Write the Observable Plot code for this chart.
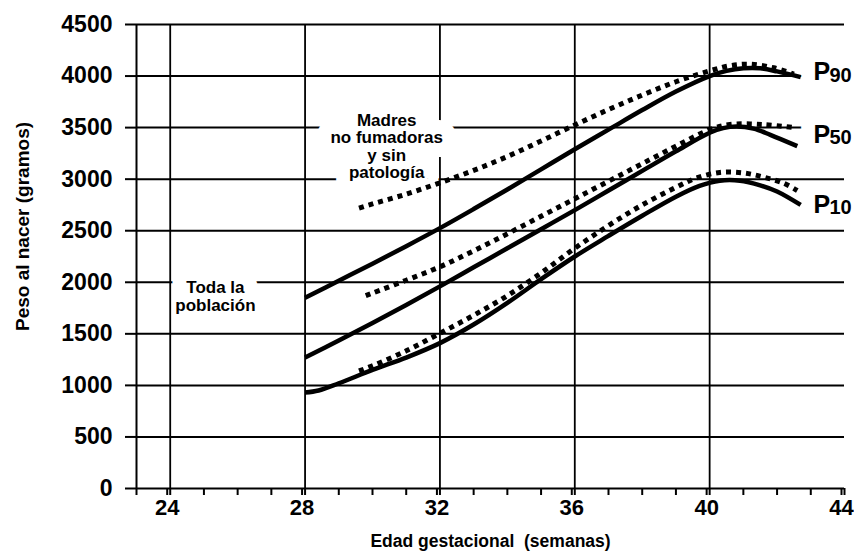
<!DOCTYPE html>
<html>
<head>
<meta charset="utf-8">
<script src="https://cdn.jsdelivr.net/npm/d3@7"></script>
<script src="https://cdn.jsdelivr.net/npm/@observablehq/plot@0.6"></script>
<style>
  html, body { margin: 0; padding: 0; background: #fff; overflow: hidden; }
  svg { overflow: visible; }
</style>
</head>
<body>
<div id="chart"></div>
<script>
// ---- data ----
const yTicks = [0, 500, 1000, 1500, 2000, 2500, 3000, 3500, 4000, 4500];
const xMajorTicks = [24, 28, 32, 36, 40, 44];
const xMinorTicks = [23, 24, 25, 26, 27, 28, 29, 30, 31, 32, 33, 34, 35, 36, 37, 38, 39, 40, 41, 42, 43, 44];
const verticalGrid = [24, 28, 32, 36, 40];

// Toda la población (solid)
const p90SolidWeeks = [28, 29, 30, 31, 32, 33, 34, 35, 36, 37, 38, 39, 40, 40.5, 41, 41.5, 42, 42.7];
const p90SolidGrams = [1850, 2015, 2180, 2350, 2525, 2710, 2900, 3095, 3290, 3480, 3670, 3850, 4000, 4050, 4075, 4075, 4045, 3990];
const p50SolidWeeks = [28, 29, 30, 31, 32, 33, 34, 35, 36, 37, 38, 39, 40, 40.4, 40.8, 41.3, 41.8, 42.6];
const p50SolidGrams = [1270, 1435, 1605, 1780, 1960, 2145, 2330, 2515, 2700, 2890, 3080, 3270, 3450, 3495, 3510, 3490, 3430, 3320];
const p10SolidWeeks = [28, 28.4, 29, 30, 31, 32, 33, 34, 35, 36, 37, 38, 39, 39.7, 40.3, 40.9, 41.5, 42, 42.7];
const p10SolidGrams = [930, 950, 1020, 1150, 1270, 1410, 1590, 1800, 2030, 2250, 2450, 2645, 2830, 2935, 2985, 2985, 2940, 2880, 2750];

// Madres no fumadoras y sin patología (dotted)
const p90DottedWeeks = [29.6, 30, 31, 32, 33, 34, 35, 36, 37, 38, 39, 40, 40.6, 41.2, 41.9, 42.5];
const p90DottedGrams = [2720, 2760, 2855, 2965, 3085, 3220, 3370, 3525, 3675, 3815, 3945, 4050, 4100, 4115, 4080, 4020];
const p50DottedWeeks = [29.8, 30, 31, 32, 33, 34, 35, 36, 37, 38, 39, 40, 40.6, 41.6, 42.5];
const p50DottedGrams = [1870, 1895, 2020, 2150, 2305, 2470, 2640, 2810, 2980, 3150, 3320, 3480, 3530, 3530, 3500];
const p10DottedWeeks = [29.6, 30, 31, 32, 33, 34, 35, 36, 37, 38, 39, 39.6, 40.3, 41, 41.6, 42.2, 42.6];
const p10DottedGrams = [1140, 1190, 1335, 1505, 1680, 1870, 2090, 2330, 2550, 2750, 2920, 3010, 3065, 3060, 3020, 2960, 2890];

// labels
const percentileNames = ["90", "50", "10"];
const percentileLabelWeek = [43.08, 43.08, 43.08];
const percentileLabelGrams = [4037, 3433, 2754];

const noteTexts = ["Toda la\npoblación", "Madres\nno fumadoras\ny sin\npatología"];
const noteWeeks = [25.34, 30.42];
const noteGrams = [1862, 3320];

const xTitle = "Edad gestacional\u00a0\u00a0(semanas)";
const yTitle = "Peso al nacer (gramos)";

// ---- tables ----
const toRows = (series, weeks, grams) => weeks.map((w, i) => ({series, week: w, grams: grams[i]}));
const solidRows = [
  ...toRows("P90", p90SolidWeeks, p90SolidGrams),
  ...toRows("P50", p50SolidWeeks, p50SolidGrams),
  ...toRows("P10", p10SolidWeeks, p10SolidGrams)
];
const dottedRows = [
  ...toRows("P90", p90DottedWeeks, p90DottedGrams),
  ...toRows("P50", p50DottedWeeks, p50DottedGrams),
  ...toRows("P10", p10DottedWeeks, p10DottedGrams)
];
const pctRows = percentileNames.map((n, i) => ({name: n, week: percentileLabelWeek[i], grams: percentileLabelGrams[i]}));
const noteRows = noteTexts.map((t, i) => ({text: t, week: noteWeeks[i], grams: noteGrams[i]}));

const font = "'Liberation Sans', Arial, Helvetica, sans-serif";
const noteOpts = {x: "week", y: "grams", text: "text", fontSize: 17, fontWeight: "bold", lineHeight: 1.03};
const pOpts = {x: "week", y: "grams", text: () => "P", textAnchor: "start", fontSize: 25, fontWeight: "bold"};
const digitOpts = {x: "week", y: "grams", text: "name", textAnchor: "start", dx: 16, dy: 3, fontSize: 20, fontWeight: "bold"};
const halo = {fill: "#fff", stroke: "#fff", strokeWidth: 28, strokeLinejoin: "round"};

const chart = Plot.plot({
  width: 854,
  height: 556,
  marginLeft: 136,
  marginRight: 10,
  marginTop: 24,
  marginBottom: 68,
  x: {domain: [23, 44]},
  y: {domain: [0, 4500]},
  style: {fontFamily: font, background: "#fff", color: "#000"},
  marks: [
    // horizontal grid
    Plot.ruleY(yTicks, {stroke: "#000", strokeWidth: 2}),
    // vertical grid line that the note box interrupts
    Plot.ruleX([32], {stroke: "#000", strokeWidth: 1.8}),
    // white boxes behind annotations
    Plot.text(noteRows, {...noteOpts, ...halo}),
    Plot.text(pctRows, {...pOpts, ...halo}),
    Plot.text(pctRows, {...digitOpts, ...halo}),
    // other vertical grid lines and y axis line
    Plot.ruleX(verticalGrid.filter(d => d !== 32), {stroke: "#000", strokeWidth: 1.8}),
    Plot.ruleX([23], {stroke: "#000", strokeWidth: 2}),
    // annotation text
    Plot.text(noteRows, {...noteOpts, fill: "#000"}),
    Plot.text(pctRows, {...pOpts, fill: "#000"}),
    Plot.text(pctRows, {...digitOpts, fill: "#000"}),
    // axes
    Plot.axisY({ticks: yTicks, tickSize: 11, tickPadding: 13, fontSize: 23, fontWeight: "bold",
      tickFormat: d => String(d), label: null, strokeWidth: 2}),
    Plot.axisX({ticks: xMinorTicks, tickSize: 7, tickFormat: () => "", label: null, strokeWidth: 2}),
    Plot.axisX({ticks: xMajorTicks, tickSize: 7, tickPadding: 4, fontSize: 22, fontWeight: "bold", dx: -3,
      tickFormat: d => String(d), label: null, strokeWidth: 2}),
    // axis titles
    Plot.text([xTitle], {frameAnchor: "bottom", textAnchor: "middle", lineAnchor: "middle", dy: 53, fontSize: 17.5, fontWeight: "bold"}),
    Plot.text([yTitle], {frameAnchor: "left", textAnchor: "middle", lineAnchor: "middle", dx: -114, dy: -30, rotate: -90, fontSize: 19, fontWeight: "bold"}),
    // curves
    Plot.line(solidRows, {x: "week", y: "grams", z: "series", curve: "catmull-rom",
      stroke: "#000", strokeWidth: 4.5, strokeLinecap: "butt", strokeLinejoin: "round"}),
    Plot.line(dottedRows, {x: "week", y: "grams", z: "series", curve: "catmull-rom",
      stroke: "#000", strokeWidth: 5, strokeDasharray: "5,5", strokeLinecap: "butt"})
  ]
});
document.getElementById("chart").appendChild(chart);
</script>
</body>
</html>
